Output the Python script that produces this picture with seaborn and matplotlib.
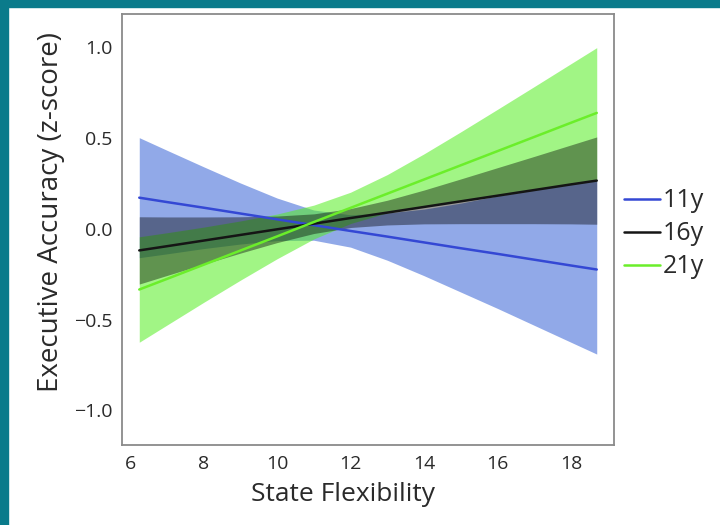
import matplotlib
matplotlib.use("Agg")
from matplotlib import pyplot as plt
from matplotlib.patches import Rectangle
import pandas as pd
import seaborn as sns

# Values (state flexibility grid)
flex = [6.25, 7, 8, 9, 10, 11, 12, 13, 14, 15, 16, 17, 18, 18.7]
groups = ["11y", "16y", "21y"]

fit_11 = [0.170, 0.146, 0.115, 0.083, 0.051, 0.019, -0.013, -0.044, -0.076, -0.108, -0.139, -0.171, -0.203, -0.225]
lo_11 = [-0.160, -0.139, -0.110, -0.085, -0.066, -0.064, -0.102, -0.174, -0.259, -0.349, -0.439, -0.532, -0.625, -0.690]
hi_11 = [0.500, 0.431, 0.340, 0.251, 0.168, 0.102, 0.076, 0.086, 0.107, 0.140, 0.180, 0.212, 0.243, 0.264]

fit_16 = [-0.120, -0.097, -0.066, -0.035, -0.004, 0.027, 0.058, 0.088, 0.119, 0.150, 0.181, 0.212, 0.243, 0.264]
lo_16 = [-0.305, -0.258, -0.196, -0.135, -0.077, -0.027, 0.006, 0.020, 0.026, 0.027, 0.027, 0.027, 0.026, 0.024]
hi_16 = [0.065, 0.064, 0.064, 0.065, 0.069, 0.081, 0.110, 0.156, 0.212, 0.273, 0.335, 0.397, 0.460, 0.504]

fit_21 = [-0.335, -0.277, -0.199, -0.121, -0.043, 0.036, 0.114, 0.192, 0.270, 0.348, 0.426, 0.504, 0.582, 0.636]
lo_21 = [-0.625, -0.531, -0.406, -0.284, -0.166, -0.057, 0.028, 0.087, 0.125, 0.150, 0.181, 0.212, 0.243, 0.264]
hi_21 = [-0.045, -0.023, 0.008, 0.042, 0.080, 0.129, 0.200, 0.297, 0.411, 0.532, 0.656, 0.781, 0.907, 0.995]

x_ticks = [6, 8, 10, 12, 14, 16, 18]
y_ticks = [-1.0, -0.5, 0.0, 0.5, 1.0]


def main():
    sns.set_style("white")
    plt.rcParams["font.family"] = ["Open Sans", "DejaVu Sans"]

    line_colors = {"11y": "#3448d4", "16y": "#151515", "21y": "#6bee2a"}
    band_colors = {"11y": ("#91a9e8", 1.0), "16y": ("#000000", 0.4), "21y": ("#55ee22", 0.55)}

    df = pd.DataFrame({
        "flex": flex * 3,
        "acc": fit_11 + fit_16 + fit_21,
        "age": [g for g in groups for _ in flex],
    })

    fig = plt.figure(figsize=(7.2, 5.25), dpi=100)
    # teal frame on the top and left edges
    fig.patches.append(Rectangle((0, 0), 8 / 720, 1, transform=fig.transFigure, color="#0a7b8b", zorder=10))
    fig.patches.append(Rectangle((0, 1 - 7 / 525), 1, 7 / 525, transform=fig.transFigure, color="#0a7b8b", zorder=10))

    ax = fig.add_axes([122 / 720, 80 / 525, 492 / 720, 431 / 525])

    # bands: blue first, then green, then the 16y band on top
    for g, lo, hi in [("11y", lo_11, hi_11), ("21y", lo_21, hi_21), ("16y", lo_16, hi_16)]:
        col, alpha = band_colors[g]
        ax.fill_between(flex, lo, hi, color=col, alpha=alpha, linewidth=0, zorder=1)

    sns.lineplot(data=df, x="flex", y="acc", hue="age", hue_order=groups,
                 palette=line_colors, linewidth=1.8, errorbar=None, ax=ax, zorder=3)

    ax.set_xlim(5.78, 19.17)
    ax.set_ylim(-1.19, 1.18)
    ax.set_xticks(x_ticks)
    ax.set_yticks(y_ticks)
    ax.set_yticklabels([f"{v:.1f}".replace("-", "\u2212") for v in y_ticks])
    ax.tick_params(direction="out", length=5, width=1.2, color="#8a8a8a",
                   labelsize=14, labelcolor="#2a2a2a", pad=2)
    for sp in ax.spines.values():
        sp.set_color("#8a8a8a")
        sp.set_linewidth(1.3)

    ax.set_xlabel("State Flexibility", fontsize=19, color="#2a2a2a")
    ax.set_ylabel("Executive Accuracy (z-score)", fontsize=20, color="#2a2a2a")
    ax.xaxis.set_label_coords(0.449, -0.085)
    ax.yaxis.set_label_coords(-0.116, 0.54)

    handles, labels = ax.get_legend_handles_labels()
    ax.legend(handles, labels, loc="center left", bbox_to_anchor=(1.02, 0.49),
              frameon=False, fontsize=18, handlelength=1.45, handletextpad=0.1,
              labelspacing=0.32, borderpad=0, borderaxespad=0, labelcolor="#2a2a2a")

    fig.savefig("out.png", dpi=100)


if __name__ == "__main__":
    main()
